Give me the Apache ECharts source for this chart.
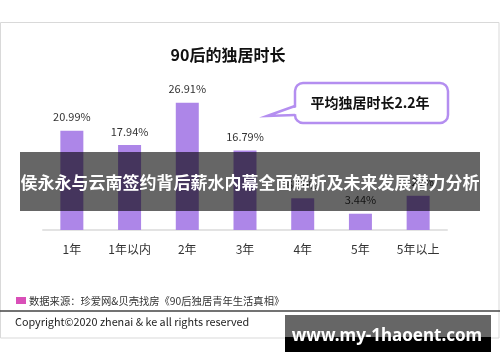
<!DOCTYPE html>
<html>
<head>
<meta charset="utf-8">
<script src="https://cdn.jsdelivr.net/npm/echarts@6/dist/echarts.min.js"></script>
<style>
html,body{margin:0;padding:0;background:#fff;}
#c{width:500px;height:362px;}
</style>
</head>
<body>
<div id="c"></div>
<script>
const categories = ['1年', '1年以内', '2年', '3年', '4年', '5年', '5年以上'];
const shares = [20.99, 17.94, 26.91, 16.79, 6.70, 3.44, 7.23];
const titleText = '90后的独居时长';
const calloutText = '平均独居时长2.2年';
const bannerText = '侯永永与云南签约背后薪水内幕全面解析及未来发展潜力分析';
const sourceText = '数据来源：珍爱网&贝壳找房《90后独居青年生活真相》';
const copyrightText = 'Copyright©2020 zhenai & ke all rights reserved';
const watermarkText = 'www.my-1haoent.com';

const CJK = '"Noto Sans CJK SC", "Noto Sans", sans-serif';
const chart = echarts.init(document.getElementById('c'), null, {renderer: 'canvas'});
chart.setOption({
  animation: false,
  backgroundColor: '#fff',
  grid: {left: 43, right: 53, top: 88, height: 142},
  xAxis: {
    type: 'category',
    data: categories,
    axisLine: {lineStyle: {color: '#e3e3e3', width: 2}},
    axisTick: {show: false},
    axisLabel: {color: '#333', fontSize: 12, margin: 13, fontFamily: CJK}
  },
  yAxis: {type: 'value', min: 0, max: 30, show: false, splitLine: {show: false}},
  series: [{
    type: 'bar',
    data: shares,
    barWidth: 23,
    itemStyle: {color: '#ad86e8'},
    label: {
      show: true, position: 'top', distance: 8,
      color: '#333', fontSize: 11, fontFamily: CJK,
      formatter: p => p.value.toFixed(2) + '%'
    }
  }],
  graphic: [
    {type: 'rect', z: 0, silent: true, shape: {x: 0.5, y: 22.5, width: 498.5, height: 315.5},
     style: {fill: 'none', stroke: '#d9d9d9', lineWidth: 1}},
    {type: 'text', z: 50, x: 228, y: 55, style: {text: titleText, font: 'bold 16px ' + CJK, fill: '#111', textAlign: 'center', textVerticalAlign: 'middle'}},
    {type: 'rect', z: 50, shape: {x: 295, y: 83, width: 153, height: 40, r: 8},
     style: {fill: '#fff', stroke: '#b48ef0', lineWidth: 2.5}},
    {type: 'polygon', z: 51, shape: {points: [[297.5, 107], [267, 116], [297.5, 114]]},
     style: {fill: '#fff'}},
    {type: 'polyline', z: 52, shape: {points: [[295, 106], [267, 116], [295, 115]]},
     style: {fill: 'none', stroke: '#b48ef0', lineWidth: 2.5}},
    {type: 'text', z: 53, x: 370, y: 103, style: {text: calloutText, font: 'bold 14px ' + CJK, fill: '#111', textAlign: 'center', textVerticalAlign: 'middle'}},
    {type: 'rect', z: 100, shape: {x: 20, y: 152, width: 460, height: 59}, style: {fill: 'rgba(0,0,0,0.6)'}},
    {type: 'text', z: 101, x: 250, y: 183, style: {text: bannerText, font: 'bold 17px ' + CJK, fill: '#fff', textAlign: 'center', textVerticalAlign: 'middle'}},
    {type: 'rect', z: 50, shape: {x: 16, y: 297, width: 10, height: 7}, style: {fill: '#d94fb8'}},
    {type: 'text', z: 50, x: 29, y: 301, style: {text: sourceText, font: '10.3px ' + CJK, fill: '#333', textAlign: 'left', textVerticalAlign: 'middle'}},
    {type: 'line', z: 50, shape: {x1: 0, y1: 311, x2: 500, y2: 311}, style: {stroke: '#444', lineWidth: 1.5}},
    {type: 'text', z: 50, x: 15, y: 322, style: {text: copyrightText, font: '10.8px ' + CJK, fill: '#222', textAlign: 'left', textVerticalAlign: 'middle'}},
    {type: 'rect', z: 100, shape: {x: 285, y: 315, width: 206, height: 22}, style: {fill: '#666'}},
    {type: 'rect', z: 100, shape: {x: 285, y: 337, width: 206, height: 15}, style: {fill: '#000'}},
    {type: 'text', z: 101, x: 387, y: 336, style: {text: watermarkText, font: 'bold 17px "Noto Sans", sans-serif', fill: '#fff', textAlign: 'center', textVerticalAlign: 'middle'}}
  ]
});
</script>
</body>
</html>
